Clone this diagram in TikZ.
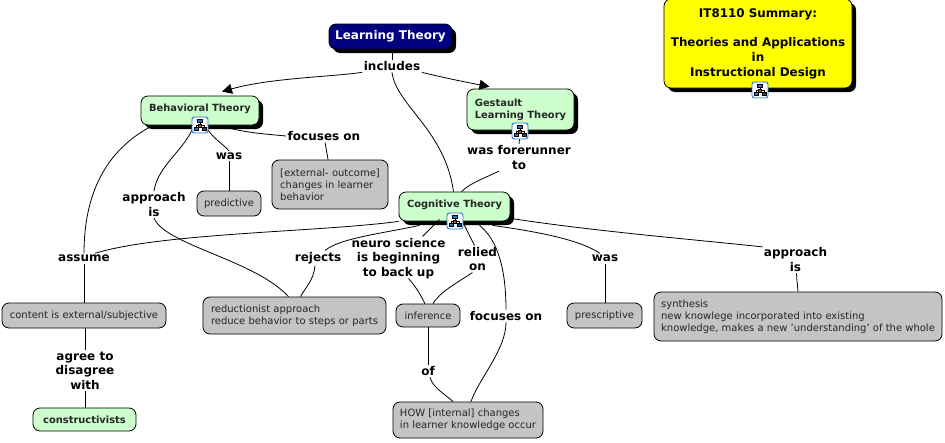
\documentclass[tikz,border=0pt]{standalone}
\usepackage{fontspec}
\setmainfont{DejaVu Sans}
\usetikzlibrary{arrows.meta,shadows}
\definecolor{conceptgreen}{HTML}{CCFFCC}
\definecolor{conceptgray}{HTML}{C4C4C4}
\definecolor{conceptnavy}{HTML}{000080}
\definecolor{conceptyellow}{HTML}{FFFF00}
\definecolor{iconblue}{HTML}{2A6FC9}
\tikzset{
  box/.style={draw=black, line width=0.8pt, rounded corners=7pt, inner xsep=5pt, inner ysep=0pt, align=left, font=\fontsize{10}{12}\selectfont, text=black!85},
  graybox/.style={box, fill=conceptgray},
  greenbox/.style={box, fill=conceptgreen, font=\fontsize{9.9}{12}\bfseries\selectfont},
  dropbox/.style={drop shadow={shadow xshift=4pt, shadow yshift=-4pt, fill=black, opacity=1}},
  phrase/.style={align=center, inner sep=1.5pt, font=\fontsize{12}{14.5}\bfseries\selectfont},
  link/.style={draw=black, line width=0.8pt},
  linkarrow/.style={link, -{Triangle[length=10pt,width=10pt]}},
  treeicon/.pic={
    \draw[draw=iconblue, line width=0.9pt, fill=white, rounded corners=2.5pt] (-8,-8) rectangle (8,8);
    \draw[line width=0.5pt, black] (0,-3) -- (0,0) (-4,2) -- (-4,0) -- (4,0) -- (4,2);
    \draw[fill=iconblue, line width=0.4pt] (-2.5,-6) rectangle (2.5,-3);
    \draw[fill=iconblue, line width=0.4pt] (-6,2) rectangle (-2,5.5);
    \draw[fill=iconblue!60!black, line width=0.4pt] (2,2) rectangle (6,5.5);
    \draw[fill=orange!70!black, line width=0.4pt] (-1.5,-0.5) rectangle (1.5,2.5);
  },
}
\begin{document}
\begin{tikzpicture}[x=1pt,y=-1pt]
  \useasboundingbox (0,0) rectangle (945,442);

  % top level
  \node[box, dropbox, fill=conceptnavy, text=white, align=center, minimum width=123pt, minimum height=25pt, text depth=3pt, font=\fontsize{12}{14}\bfseries\selectfont] (learning) at (390.5,36.5) {Learning Theory};
  \node[box, dropbox, fill=conceptyellow, text=black, align=center, minimum width=188pt, minimum height=89pt, font=\fontsize{11.9}{14.7}\bfseries\selectfont] (summary) at (758,43.5) {IT8110 Summary:\\[14.7pt]Theories and Applications\\in\\Instructional Design};

  % theories
  \node[greenbox, dropbox, minimum width=118pt, minimum height=29pt, text depth=6pt] (behavioral) at (200,110.5) {Behavioral Theory};
  \node[greenbox, dropbox, minimum width=107pt, minimum height=41pt] (gestault) at (520.5,109.5) {Gestault\\Learning Theory};
  \node[greenbox, dropbox, minimum width=111pt, minimum height=29pt, text depth=6pt] (cognitive) at (454.5,206.5) {Cognitive Theory};

  % concepts
  \node[graybox, minimum width=64pt, minimum height=25pt] (predictive) at (229,203.5) {predictive};
  \node[graybox, minimum width=116pt, minimum height=49pt] (outcome) at (330,184.5) {[external- outcome]\\changes in learner\\behavior};
  \node[graybox, minimum width=164pt, minimum height=25pt] (content) at (84,315.5) {content is external/subjective};
  \node[greenbox, minimum width=103pt, minimum height=23pt] (constructivists) at (84.5,419.5) {constructivists};
  \node[graybox, minimum width=183pt, minimum height=37pt] (reductionist) at (294.5,315.5) {reductionist approach\\reduce behavior to steps or parts};
  \node[graybox, minimum width=64pt, minimum height=23pt] (inference) at (428,315.5) {inference};
  \node[graybox, minimum width=75pt, minimum height=25pt] (prescriptive) at (604.5,315.5) {prescriptive};
  \node[graybox, minimum width=288pt, minimum height=49pt] (synthesis) at (798,316.5) {synthesis\\new knowlege incorporated into existing\\knowledge, makes a new 'understanding' of the whole};
  \node[graybox, minimum width=150pt, minimum height=36pt] (how) at (468,420) {HOW [internal] changes\\in learner knowledge occur};

  % linking phrases
  \node[phrase] (includes) at (392,66) {includes};
  \node[phrase] (focusesa) at (324,136) {focuses on};
  \node[phrase] (wasa) at (229,156) {was};
  \node[phrase] (approacha) at (154,204.5) {approach\\is};
  \node[phrase] (forerunner) at (519,157.5) {was forerunner\\to};
  \node[phrase] (assume) at (84,258.5) {assume};
  \node[phrase] (rejects) at (318,258) {rejects};
  \node[phrase] (neuro) at (398.5,258.5) {neuro science\\is beginning\\to back up};
  \node[phrase] (relied) at (477.5,259) {relied\\on};
  \node[phrase] (focusesb) at (506,316) {focuses on};
  \node[phrase] (wasb) at (605,258.5) {was};
  \node[phrase] (approachb) at (795.5,259.5) {approach\\is};
  \node[phrase] (agree) at (85,370.5) {agree to\\disagree\\with};
  \node[phrase] (of) at (428,371) {of};

  % connectors
  \draw[link] (includes.north |- learning.south) -- (includes.north);
  \draw[linkarrow] (includes.south west) .. controls (330,77) and (270,78) .. ([xshift=22pt,yshift=4pt]behavioral.north);
  \draw[linkarrow] (includes.south east) .. controls (445,78) and (470,83) .. ([xshift=-31pt,yshift=2pt]gestault.north);
  \draw[link] (includes.south) .. controls (396,105) and (445,130) .. ([xshift=-1pt]cognitive.north);

  \draw[link] ([xshift=-47pt]behavioral.south) .. controls (105,150) and (84,195) .. (assume.north);
  \draw[link] ([xshift=-6pt]behavioral.south) .. controls (185,150) and (158,165) .. (approacha.north);
  \draw[link] ([xshift=5pt]behavioral.south) .. controls (212,138) and (222,143) .. (wasa.north);
  \draw[link] ([xshift=30pt,yshift=-3pt]behavioral.south) .. controls (250,133) and (265,134) .. (focusesa.west);
  \draw[link] (wasa.south) -- (predictive.north);
  \draw[link] ([xshift=1pt]focusesa.south) .. controls (326,148) and (327,153) .. ([xshift=-2pt]outcome.north);
  \draw[link] (approacha.south) .. controls (165,245) and (255,260) .. ([xshift=-6pt]reductionist.north);
  \draw[link] (assume.south) -- (assume.south |- content.north);
  \draw[link] (agree.north |- content.south) -- (agree.north);
  \draw[link] (agree.south) -- (agree.south |- constructivists.north);

  \draw[link] (gestault.south) -- (forerunner.north);
  \draw[link] ([xshift=-20pt]forerunner.south) .. controls (485,178) and (470,183) .. ([xshift=7pt]cognitive.north);

  \draw[link] (cognitive.south west) .. controls (320,232) and (160,233) .. ([xshift=11pt]assume.north);
  \draw[link] ([xshift=-35pt,yshift=-4pt]cognitive.south) .. controls (385,233) and (340,238) .. ([xshift=7pt]rejects.north);
  \draw[link] ([xshift=-3pt]rejects.south) .. controls (314,280) and (305,288) .. ([xshift=6pt]reductionist.north);
  \draw[link] ([xshift=-15pt,yshift=2pt]cognitive.south) -- ([xshift=24pt]neuro.north);
  \draw[link] ([xshift=10pt,yshift=2pt]neuro.south) .. controls (417,288) and (421,296) .. ([xshift=-3pt]inference.north);
  \draw[link] ([xshift=8pt]cognitive.south) -- ([xshift=-3pt]relied.north);
  \draw[link] ([xshift=-5pt]relied.south) .. controls (455,284) and (440,292) .. ([xshift=5pt]inference.north);
  \draw[link] ([xshift=25pt,yshift=-4pt]cognitive.south) .. controls (498,240) and (506,270) .. (focusesb.north);
  \draw[link] (focusesb.south) .. controls (506,350) and (478,380) .. ([xshift=3pt]how.north);
  \draw[link] ([xshift=38pt,yshift=-4pt]cognitive.south) .. controls (540,232) and (580,240) .. ([xshift=-5pt]wasb.north);
  \draw[link] (wasb.south) -- (wasb.south |- prescriptive.north);
  \draw[link] ([yshift=3pt]cognitive.south east) .. controls (600,232) and (700,240) .. ([xshift=-33pt,yshift=-1pt]approachb.north);
  \draw[link] ([xshift=1pt]approachb.south) .. controls (797,285) and (798,287) .. (synthesis.north);
  \draw[link] (inference.south) -- (of.north);
  \draw[link] ([xshift=2pt]of.south) .. controls (433,388) and (445,394) .. ([xshift=-15pt]how.north);

  % map icons
  \pic at (200,125) {treeicon};
  \pic at (520,131) {treeicon};
  \pic at (455,221) {treeicon};
  \pic at (760,90) {treeicon};
\end{tikzpicture}
\end{document}
